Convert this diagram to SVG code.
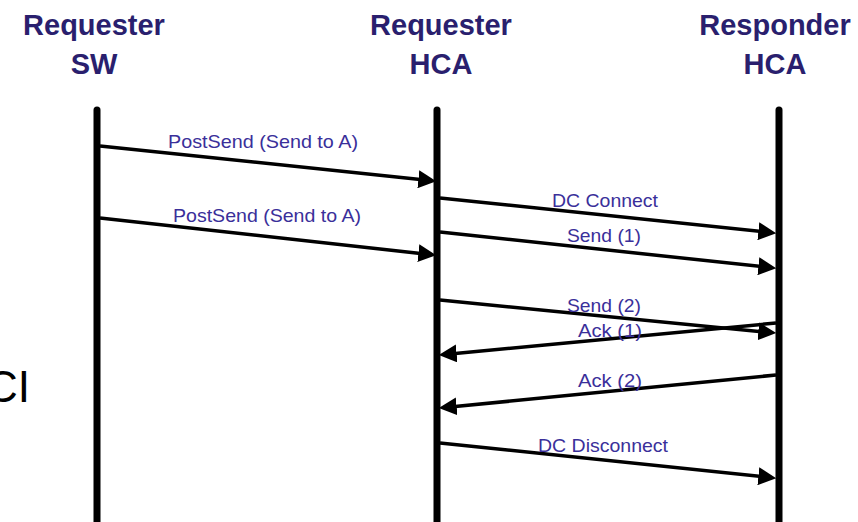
<svg xmlns="http://www.w3.org/2000/svg" width="858" height="522" viewBox="0 0 858 522">
<style>
.hdr{font-family:"Liberation Sans",Arial,sans-serif;font-weight:bold;font-size:29px;fill:#2a1f6e;text-anchor:middle}
.lbl{font-family:"Liberation Sans",Arial,sans-serif;font-size:19px;fill:#3a2f9a;text-anchor:middle}
.life{stroke:#000;stroke-width:7;stroke-linecap:round;fill:none}
.msg{stroke:#000;stroke-width:3.5;fill:none;marker-end:url(#ah)}
.side{font-family:"Liberation Sans",Arial,sans-serif;font-size:44px;fill:#000}
</style>
<defs>
<marker id="ah" markerUnits="userSpaceOnUse" markerWidth="18" markerHeight="18" refX="6" refY="8" orient="auto" viewBox="0 0 16 16">
<path d="M0,0 L16,8 L0,16 z" fill="#000"/>
</marker>
</defs>
<rect width="858" height="522" fill="#fff"/>
<text class="side" x="-14" y="402">CI</text>
<g id="requester-sw">
<text class="hdr" x="94" y="35">Requester</text>
<text class="hdr" x="94" y="74">SW</text>
<line class="life" x1="97" y1="110" x2="97" y2="540"/>
</g>
<g id="requester-hca">
<text class="hdr" x="441" y="35">Requester</text>
<text class="hdr" x="441" y="74">HCA</text>
<line class="life" x1="437" y1="110" x2="437" y2="540"/>
</g>
<g id="responder-hca">
<text class="hdr" x="775" y="35">Responder</text>
<text class="hdr" x="775" y="74">HCA</text>
<line class="life" x1="779" y1="110" x2="779" y2="540"/>
</g>
<g id="connectors">
<line class="msg" x1="100" y1="146" x2="425.05" y2="179.96"/>
<text class="lbl" x="263" y="148" textLength="190" lengthAdjust="spacingAndGlyphs">PostSend (Send to A)</text>
<line class="msg" x1="100" y1="218" x2="425.06" y2="253.9"/>
<text class="lbl" x="267" y="222" textLength="188" lengthAdjust="spacingAndGlyphs">PostSend (Send to A)</text>
<line class="msg" x1="440" y1="198" x2="765.05" y2="231.96"/>
<text class="lbl" x="605" y="207" textLength="106" lengthAdjust="spacingAndGlyphs">DC Connect</text>
<line class="msg" x1="440" y1="232" x2="765.06" y2="266.93"/>
<text class="lbl" x="604" y="242" textLength="74" lengthAdjust="spacingAndGlyphs">Send (1)</text>
<line class="msg" x1="440" y1="300" x2="765.05" y2="332.02"/>
<text class="lbl" x="604" y="312" textLength="74" lengthAdjust="spacingAndGlyphs">Send (2)</text>
<line class="msg" x1="776" y1="323" x2="449.96" y2="354.05"/>
<text class="lbl" x="610" y="337" textLength="64" lengthAdjust="spacingAndGlyphs">Ack (1)</text>
<line class="msg" x1="776" y1="375" x2="449.95" y2="407.02"/>
<text class="lbl" x="610" y="387" textLength="64" lengthAdjust="spacingAndGlyphs">Ack (2)</text>
<line class="msg" x1="440" y1="443" x2="765.05" y2="476.96"/>
<text class="lbl" x="603" y="452" textLength="130" lengthAdjust="spacingAndGlyphs">DC Disconnect</text>
</g>
</svg>
